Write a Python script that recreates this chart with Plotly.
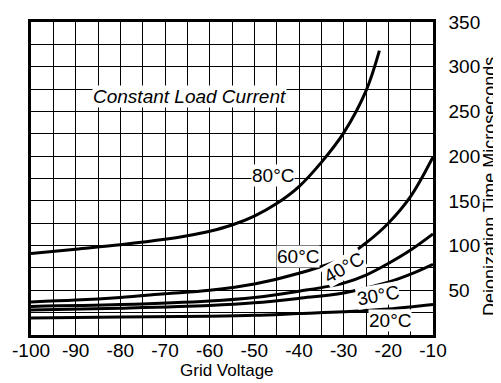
import plotly.graph_objects as go

# Grid voltage (V) and deionization time (microseconds) for each temperature
x80 = [-100, -90, -80, -70, -65, -60, -55, -50, -45, -40, -35, -30, -25, -22]
y80 = [91, 96, 101, 107, 111, 116, 123, 133, 147, 166, 193, 226, 273, 318]

x60 = [-100, -90, -80, -70, -60, -50, -40, -30, -25, -20, -15, -10]
y60 = [37, 39, 42, 46, 50, 57, 69, 86, 103, 125, 155, 199]

x40 = [-100, -80, -60, -50, -40, -30, -25, -20, -15, -10]
y40 = [32, 34, 38, 42, 49, 58, 67, 80, 95, 113]

x30 = [-100, -80, -60, -50, -40, -30, -20, -15, -10]
y30 = [28, 30, 33, 36, 41, 47, 59, 68, 79]

x20 = [-100, -80, -60, -50, -40, -30, -20, -10]
y20 = [19, 20, 21, 22, 24, 26, 29, 34]

series = [("80°C", x80, y80), ("60°C", x60, y60), ("40°C", x40, y40),
          ("30°C", x30, y30), ("20°C", x20, y20)]

# label positions (data coords) and angles
labels = [("80°C", -45.8, 178, 0), ("60°C", -40.2, 88, 0), ("40°C", -29.9, 75, -30),
          ("30°C", -22.3, 44, -10), ("20°C", -19.6, 16, 0)]

x_ticks = list(range(-100, -9, 5))
x_text = [str(v) if v % 10 == 0 else "" for v in x_ticks]
y_ticks = list(range(0, 351, 25))
y_text = [str(v) if (v % 50 == 0 and v > 0) else "" for v in y_ticks]

FONT = "Liberation Sans, Arial, sans-serif"

fig = go.Figure()
for name, xs, ys in series:
    fig.add_trace(go.Scatter(x=xs, y=ys, mode="lines", name=name,
                             line=dict(color="black", width=3, shape="spline", smoothing=1.0),
                             showlegend=False, hoverinfo="skip"))

for txt, lx, ly, ang in labels:
    fig.add_annotation(x=lx, y=ly, text=txt, showarrow=False, textangle=ang,
                       font=dict(family=FONT, size=19, color="black"),
                       bgcolor="white", borderpad=0)

fig.add_annotation(x=-64.5, y=267, text="<i>Constant Load Current</i>", showarrow=False,
                   font=dict(family=FONT, size=19, color="black"), bgcolor="white", borderpad=0)

fig.add_annotation(xref="paper", yref="paper", x=0.487, y=-0.112, yanchor="middle",
                   text="Grid Voltage", showarrow=False,
                   font=dict(family=FONT, size=17, color="black"))

fig.add_annotation(xref="paper", yref="paper", x=1.14, y=0.474, xanchor="center",
                   text="Deionization Time Microseconds", showarrow=False, textangle=-90,
                   font=dict(family=FONT, size=18, color="black"))

fig.update_xaxes(range=[-100, -10], tickmode="array", tickvals=x_ticks, ticktext=x_text,
                 showgrid=True, gridcolor="black", gridwidth=1.3,
                 showline=True, linecolor="black", linewidth=2.5, mirror=True,
                 zeroline=False, ticks="", ticklabelstandoff=-4, automargin=False,
                 tickfont=dict(family=FONT, size=19, color="black"))
fig.update_yaxes(range=[0, 350], tickmode="array", tickvals=y_ticks, ticktext=y_text,
                 side="right", showgrid=True, gridcolor="black", gridwidth=1.3,
                 showline=True, linecolor="black", linewidth=2.5, mirror=True,
                 zeroline=False, ticks="", ticklabelstandoff=9, automargin=False,
                 tickfont=dict(family=FONT, size=19, color="black"))

# page body has an 8px margin, so the figure is sized to fit the 501x383 window
fig.update_layout(width=493, height=375, paper_bgcolor="white", plot_bgcolor="white",
                  margin=dict(l=23, r=68, t=14, b=48))

fig.write_html("out.html")
